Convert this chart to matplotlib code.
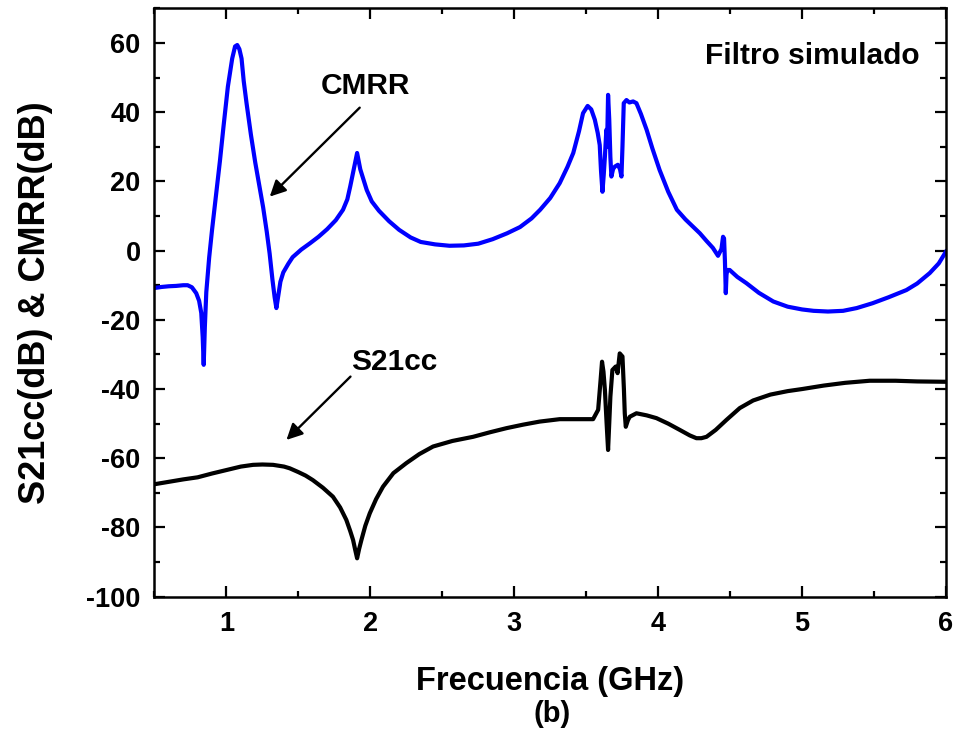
import matplotlib
matplotlib.use("Agg")
import matplotlib.pyplot as plt
from matplotlib.ticker import MultipleLocator

# CMRR of the simulated filter (GHz, dB)
cmrr_freq = [0.50, 0.55, 0.60, 0.65, 0.70, 0.73, 0.76, 0.79, 0.81, 0.825, 0.835, 0.842,
             0.850, 0.860, 0.88, 0.90, 0.93, 0.955, 0.98, 1.01, 1.04, 1.06, 1.075, 1.09,
             1.105, 1.12, 1.14, 1.17, 1.20, 1.23, 1.255, 1.28, 1.30, 1.32, 1.335, 1.347,
             1.36, 1.375, 1.395, 1.43, 1.46, 1.52, 1.58, 1.64, 1.70, 1.76, 1.81, 1.84,
             1.86, 1.885, 1.908, 1.93, 1.95, 1.975, 2.01, 2.06, 2.13, 2.20, 2.28, 2.35,
             2.45, 2.55, 2.65, 2.75, 2.85, 2.95, 3.04, 3.12, 3.18, 3.25, 3.316, 3.37,
             3.41, 3.45, 3.478, 3.51, 3.535, 3.56, 3.58, 3.594, 3.603, 3.613, 3.622, 3.63,
             3.64, 3.645, 3.652, 3.66, 3.668, 3.675, 3.687, 3.70, 3.72, 3.735, 3.745,
             3.752, 3.761, 3.78, 3.80, 3.826, 3.849, 3.88, 3.92, 3.96, 4.01, 4.07, 4.13,
             4.19, 4.243, 4.29, 4.336, 4.38, 4.416, 4.44, 4.451, 4.458, 4.464, 4.47,
             4.475, 4.48, 4.497, 4.55, 4.613, 4.70, 4.80, 4.90, 5.00, 5.08, 5.18, 5.285,
             5.38, 5.49, 5.60, 5.725, 5.80, 5.887, 5.95, 6.00]
cmrr_db = [-10.8, -10.5, -10.3, -10.2, -10.0, -10.0, -10.6, -12.3, -14.5, -18.0, -25.0, -33.0,
           -22.0, -12.0, -2.0, 6.0, 17.0, 26.0, 36.0, 47.4, 55.5, 59.0, 59.4, 58.2,
           55.5, 49.0, 42.5, 33.5, 25.5, 18.5, 12.5, 5.5, -0.8, -8.5, -13.5, -16.6,
           -13.0, -9.0, -6.3, -3.8, -1.9, 0.3, 2.1, 4.0, 6.2, 8.8, 11.8, 14.8,
           18.5, 23.5, 28.2, 23.5, 20.8, 17.5, 14.2, 11.5, 8.5, 6.0, 3.8, 2.5,
           1.8, 1.4, 1.5, 2.0, 3.3, 5.0, 6.8, 9.3, 11.8, 15.2, 19.5, 24.2,
           28.2, 34.5, 39.7, 41.8, 40.8, 37.8, 34.0, 30.5, 23.0, 17.0, 22.0, 27.2,
           34.9, 30.0, 45.0, 38.0, 27.0, 21.4, 23.6, 24.3, 24.8, 23.5, 21.4,
           30.0, 42.6, 43.5, 42.8, 43.1, 42.6, 39.5, 34.9, 29.5, 23.3, 17.0, 11.8,
           9.0, 6.9, 5.0, 2.8, 0.8, -1.5, 0.5, 4.0, 3.5, -3.0, -12.3,
           -7.0, -5.6, -5.6, -7.6, -9.4, -12.2, -14.7, -16.2, -17.0, -17.4, -17.6, -17.4,
           -16.6, -15.2, -13.5, -11.4, -9.5, -6.5, -3.7, -0.3]

# Common-mode transmission S21cc (GHz, dB)
s21cc_freq = [0.50, 0.60, 0.70, 0.80, 0.90, 1.00, 1.10, 1.185, 1.25, 1.324, 1.40, 1.44,
              1.50, 1.55, 1.60, 1.67, 1.74, 1.79, 1.833, 1.86, 1.88, 1.895, 1.908, 1.922,
              1.938, 1.965, 1.996, 2.04, 2.088, 2.16, 2.25, 2.34, 2.436, 2.57, 2.714,
              2.83, 2.946, 3.06, 3.177, 3.316, 3.455, 3.548, 3.583, 3.60, 3.61, 3.62,
              3.63, 3.642, 3.652, 3.660, 3.668, 3.682, 3.705, 3.718, 3.733, 3.752, 3.762,
              3.768, 3.775, 3.79, 3.803, 3.849, 3.92, 3.988, 4.07, 4.15, 4.22, 4.266,
              4.30, 4.336, 4.40, 4.475, 4.567, 4.66, 4.78, 4.90, 5.00, 5.15, 5.30, 5.47,
              5.65, 5.80, 6.00]
s21cc_db = [-67.5, -66.8, -66.1, -65.5, -64.4, -63.4, -62.4, -61.9, -61.8, -61.9, -62.4, -62.9,
            -64.0, -65.0, -66.3, -68.5, -71.1, -74.2, -77.8, -81.0, -83.6, -86.5, -88.9, -86.2,
            -83.6, -79.5, -75.9, -71.8, -68.2, -64.3, -61.4, -58.8, -56.6, -55.0, -53.8,
            -52.5, -51.3, -50.3, -49.4, -48.7, -48.7, -48.7, -46.0, -37.4, -32.1, -35.0,
            -40.3, -50.0, -57.6, -50.0, -42.2, -34.5, -33.5, -35.4, -29.7, -30.6, -40.0,
            -47.0, -50.9, -49.0, -48.0, -47.0, -47.6, -48.4, -50.0, -51.8, -53.4, -54.2,
            -54.2, -53.8, -51.8, -48.9, -45.5, -43.3, -41.6, -40.6, -40.0, -39.0, -38.2, -37.6,
            -37.6, -37.8, -37.9]

x_ticks = [1, 2, 3, 4, 5, 6]
y_ticks = [-100, -80, -60, -40, -20, 0, 20, 40, 60]

plt.rcParams['font.family'] = ['Liberation Sans', 'DejaVu Sans']
plt.rcParams['font.weight'] = 'bold'
plt.rcParams['axes.unicode_minus'] = False

fig = plt.figure(figsize=(9.56, 7.31), dpi=100)
ax = fig.add_axes([0.1616, 0.1837, 0.9895 - 0.1616, 0.9886 - 0.1837])

ax.plot(cmrr_freq, cmrr_db, color='#0000ff', lw=3.0, solid_joinstyle='round')
ax.plot(s21cc_freq, s21cc_db, color='black', lw=3.0, solid_joinstyle='round')

ax.set_xlim(0.5, 6)
ax.set_ylim(-100, 70)
ax.set_xticks(x_ticks)
ax.set_yticks(y_ticks)
ax.xaxis.set_minor_locator(MultipleLocator(0.5))
ax.yaxis.set_minor_locator(MultipleLocator(10))
ax.tick_params(which='both', direction='in', top=True, right=True, width=1.6,
               labelsize=19.5, pad=10)
ax.tick_params(which='major', length=8)
ax.tick_params(which='minor', length=4.5)
for lab in ax.get_xticklabels() + ax.get_yticklabels():
    lab.set_fontweight('bold')
for sp in ax.spines.values():
    sp.set_linewidth(1.8)

ax.set_xlabel('Frecuencia (GHz)', fontsize=23.5, fontweight='bold', labelpad=21)
ax.set_ylabel('S21cc(dB) & CMRR(dB)', fontsize=26, fontweight='bold', labelpad=24)
fig.text(0.5774, 0.023, '(b)', fontsize=21, fontweight='bold', ha='center', va='center')

ax.text(0.967, 0.919, 'Filtro simulado', transform=ax.transAxes, ha='right', va='center',
        fontsize=21.5, fontweight='bold')

arrow = dict(arrowstyle='-|>', color='black', lw=1.7, mutation_scale=24, shrinkA=0, shrinkB=0)
ax.annotate('', xy=(1.301, 15.6), xytext=(1.926, 41.3), arrowprops=arrow)
ax.text(1.968, 47.6, 'CMRR', ha='center', va='center', fontsize=21.5, fontweight='bold')
ax.annotate('', xy=(1.417, -54.7), xytext=(1.862, -36.4), arrowprops=arrow)
ax.text(2.163, -32.2, 'S21cc', ha='center', va='center', fontsize=21.5, fontweight='bold')

fig.savefig('out.png', dpi=100)
